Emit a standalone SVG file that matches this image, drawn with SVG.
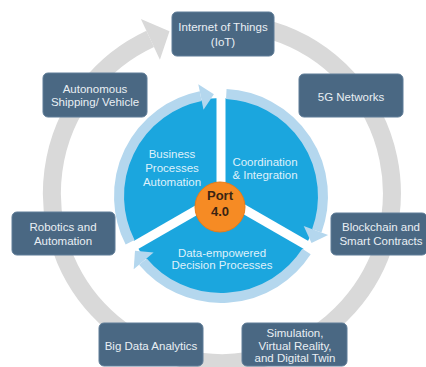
<svg xmlns="http://www.w3.org/2000/svg" width="426" height="367" viewBox="0 0 426 367">
<style>
.box{fill:#4a6883;stroke:#5f7d98;stroke-width:1}
.bt{font-family:"Liberation Sans",Arial,sans-serif;font-size:11.5px;fill:#e9eff4;text-anchor:middle}
.ct{font-family:"Liberation Sans",Arial,sans-serif;font-size:11.5px;fill:#dff1fb;text-anchor:middle}
.lr{fill:none;stroke:#b4d7ee;stroke-width:10}
.ah{fill:#b4d7ee}
.gap{stroke:#ffffff;stroke-width:9;stroke-linecap:butt}
.pt{font-family:"Liberation Sans",Arial,sans-serif;font-size:13px;font-weight:bold;fill:#3a2413;text-anchor:middle}
</style>
<rect width="426" height="367" fill="#ffffff"/>
<g id="connectors">
  <path d="M192.5,25.6 A170,170 0 1 1 150.2,38.9" fill="none" stroke="#d9d9d9" stroke-width="18"/>
  <polygon points="159.9,59.8 140.9,19.0 169.5,31.3" fill="#d9d9d9"/>
</g>
<g id="core">
  <circle cx="221" cy="196" r="98" fill="#1ba6de"/>
  <line class="gap" x1="221" y1="196" x2="221" y2="82"/>
  <line class="gap" x1="221" y1="196" x2="320" y2="253"/>
  <line class="gap" x1="221" y1="196" x2="122" y2="253"/>
  <path class="lr" d="M130.1,242.3 A102,102 0 0 1 200.7,96.1"/>
  <polygon class="ah" points="203.5,109.8 198.3,84.3 213.9,94.2"/>
  <path class="lr" d="M226.3,94.1 A102,102 0 0 1 316.8,230.9"/>
  <polygon class="ah" points="303.7,226.1 328.1,235.0 311.5,243.1"/>
  <path class="lr" d="M306.5,251.5 A102,102 0 0 1 142.9,261.6"/>
  <polygon class="ah" points="153.6,252.6 133.7,269.3 135.0,250.8"/>
  <text class="ct" x="172" y="158">Business</text>
  <text class="ct" x="172" y="172">Processes</text>
  <text class="ct" x="172" y="186">Automation</text>
  <text class="ct" x="265" y="166">Coordination</text>
  <text class="ct" x="265" y="179">&amp; Integration</text>
  <text class="ct" x="222" y="257">Data-empowered</text>
  <text class="ct" x="222" y="269">Decision Processes</text>
</g>
<g id="port">
  <circle cx="220" cy="207" r="25" fill="#f68b24" stroke="#e87c18" stroke-width="1"/>
  <text class="pt" x="220" y="200">Port</text>
  <text class="pt" x="220" y="216">4.0</text>
</g>
<g id="iot">
  <rect class="box" x="172" y="12" width="102" height="44" rx="5"/>
  <text class="bt" x="223" y="31" font-size="11">Internet of Things</text>
  <text class="bt" x="223" y="46">(IoT)</text>
</g>
<g id="g5">
  <rect class="box" x="299" y="74" width="104" height="43" rx="5"/>
  <text class="bt" x="351" y="101">5G Networks</text>
</g>
<g id="autonomous">
  <rect class="box" x="43" y="73" width="104" height="44" rx="5"/>
  <text class="bt" x="95" y="93">Autonomous</text>
  <text class="bt" x="95" y="106">Shipping/ Vehicle</text>
</g>
<g id="robotics">
  <rect class="box" x="12" y="212" width="103" height="43" rx="5"/>
  <text class="bt" x="63" y="231">Robotics and</text>
  <text class="bt" x="63" y="245">Automation</text>
</g>
<g id="blockchain">
  <rect class="box" x="331" y="213" width="96" height="42" rx="5"/>
  <text class="bt" x="381" y="231">Blockchain and</text>
  <text class="bt" x="381" y="245">Smart Contracts</text>
</g>
<g id="bigdata">
  <rect class="box" x="99" y="323" width="104" height="43" rx="5"/>
  <text class="bt" x="151" y="350">Big Data Analytics</text>
</g>
<g id="simulation">
  <rect class="box" x="242" y="323" width="105" height="43" rx="5"/>
  <text class="bt" x="295" y="337">Simulation,</text>
  <text class="bt" x="295" y="350">Virtual Reality,</text>
  <text class="bt" x="295" y="362">and Digital Twin</text>
</g>
</svg>
